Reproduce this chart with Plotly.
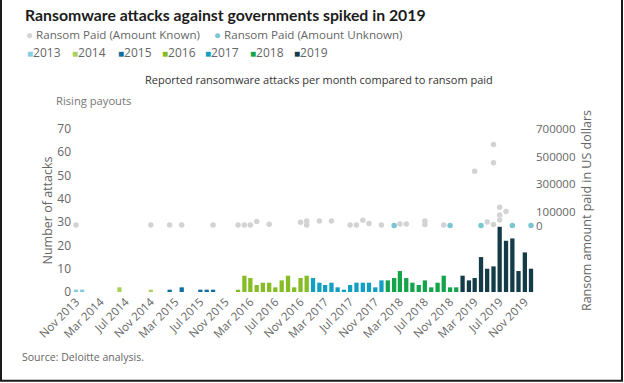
import plotly.graph_objects as go

# ---------------- data ----------------
# Reported ransomware attacks per month (bars), one list per year
months_2013 = ["2013-11-01", "2013-12-01"]
attacks_2013 = [1, 1]
months_2014 = ["2014-06-01", "2014-11-01"]
attacks_2014 = [2, 1]
months_2015 = ["2015-02-01", "2015-04-01", "2015-07-01", "2015-08-01", "2015-09-01"]
attacks_2015 = [1, 2, 1, 1, 1]
months_2016 = ["2016-01-01", "2016-02-01", "2016-03-01", "2016-04-01", "2016-05-01", "2016-06-01",
               "2016-07-01", "2016-08-01", "2016-09-01", "2016-10-01", "2016-11-01", "2016-12-01"]
attacks_2016 = [1, 7, 6, 3, 4, 4, 2, 5, 7, 2, 6, 7]
months_2017 = ["2017-01-01", "2017-02-01", "2017-03-01", "2017-04-01", "2017-05-01", "2017-06-01",
               "2017-07-01", "2017-08-01", "2017-09-01", "2017-10-01", "2017-11-01", "2017-12-01"]
attacks_2017 = [6, 4, 3, 4, 2, 1, 3, 4, 4, 4, 2, 5]
months_2018 = ["2018-01-01", "2018-02-01", "2018-03-01", "2018-04-01", "2018-05-01", "2018-06-01",
               "2018-07-01", "2018-08-01", "2018-09-01", "2018-10-01", "2018-11-01", "2018-12-01"]
attacks_2018 = [5, 6, 9, 6, 4, 3, 5, 2, 4, 7, 2, 2]
months_2019 = ["2019-01-01", "2019-02-01", "2019-03-01", "2019-04-01", "2019-05-01", "2019-06-01",
               "2019-07-01", "2019-08-01", "2019-09-01", "2019-10-01", "2019-11-01", "2019-12-01"]
attacks_2019 = [7, 5, 6, 15, 10, 11, 28, 22, 23, 9, 17, 10]

# Ransom paid (US dollars), amount known
known_months = ["2013-11-01", "2014-11-01", "2015-02-01", "2015-04-01", "2015-09-01",
                "2016-01-01", "2016-02-01", "2016-03-01", "2016-04-01", "2016-06-01",
                "2016-11-01", "2016-12-01", "2016-12-01", "2017-02-01", "2017-04-01",
                "2017-07-01", "2017-08-01", "2017-09-01", "2017-10-01", "2017-12-01",
                "2018-03-01", "2018-04-01", "2018-07-01", "2018-07-01", "2018-10-01",
                "2019-03-01", "2019-05-01", "2019-06-01", "2019-06-01", "2019-06-01",
                "2019-07-01", "2019-07-01", "2019-07-01", "2019-08-01"]
known_paid = [4000, 4000, 4000, 4000, 4000,
              4000, 4000, 4000, 29000, 9000,
              24000, 33000, 4000, 33000, 33000,
              4000, 4000, 38000, 14000, 4000,
              11000, 11000, 33000, 7000, 4000,
              394000, 26000, 587000, 455000, 7000,
              133000, 76000, 40000, 102000]

# Ransom paid, amount unknown (drawn on the zero line)
unknown_months = ["2018-02-01", "2018-11-01", "2019-04-01", "2019-09-01", "2019-12-01"]
unknown_paid = [0, 0, 0, 0, 0]

years = ["2013", "2014", "2015", "2016", "2017", "2018", "2019"]
year_colors = ["#86cfe0", "#a9d15c", "#0e6fa3", "#86bc25", "#139fc2", "#14a54a", "#133b48"]
known_color = "#d3d3d3"
unknown_color = "#79c6d0"

# ---------------- geometry ----------------
W_FIG, H_FIG = 624, 383
L, R, T, B = 72, 535, 128.5, 292
PW, PH = R - L, B - T


def xp(px):
    return (px - L) / PW


def yp(py):
    return (B - py) / PH


# ---------------- figure ----------------
fig = go.Figure()

bar_sets = [
    (months_2013, attacks_2013), (months_2014, attacks_2014), (months_2015, attacks_2015),
    (months_2016, attacks_2016), (months_2017, attacks_2017), (months_2018, attacks_2018),
    (months_2019, attacks_2019),
]
BAR_W = 20.9 * 86400000  # ms
for (mo, vals), yr, col in zip(bar_sets, years, year_colors):
    marker = dict(color=col, line=dict(width=0))
    if yr == "2013":
        marker["pattern"] = dict(shape=".", fgcolor="#4aaecb", size=3, solidity=0.35)
    fig.add_trace(go.Bar(x=mo, y=vals, name=yr, width=BAR_W, marker=marker))

fig.add_trace(go.Scatter(x=known_months, y=known_paid, mode="markers", yaxis="y2",
                         name="Ransom Paid (Amount Known)",
                         marker=dict(color=known_color, size=5.5)))
fig.add_trace(go.Scatter(x=unknown_months, y=unknown_paid, mode="markers", yaxis="y2",
                         name="Ransom Paid (Amount Unknown)",
                         marker=dict(color=unknown_color, size=5.5)))

FONT = "Open Sans, Noto Sans, sans-serif"
annotations = []


def ann(text, px, py, size, color, xanchor="left"):
    annotations.append(dict(text=text, x=xp(px), y=yp(py), xref="paper", yref="paper",
                            showarrow=False, xanchor=xanchor, yanchor="middle",
                            font=dict(size=size, color=color, family=FONT)))


# legend rows (drawn as text)
ann(f"<span style='color:{known_color}'>●</span> Ransom Paid (Amount Known)", 24, 34, 11.6, "#666")
ann(f"<span style='color:{unknown_color}'>●</span> Ransom Paid (Amount Unknown)", 212, 34, 11.6, "#666")
leg_x = [25, 70, 116, 160, 203, 248, 292]
for yr, col, px in zip(years, year_colors, leg_x):
    ann(f"<span style='color:{col};font-size:10px'>■</span>{yr}", px, 52, 12, "#666")

ann("Reported ransomware attacks per month compared to ransom paid", 319, 79, 11, "#333", "center")
ann("Rising payouts", 54, 100, 11.2, "#777")
ann("Source: Deloitte analysis.", 20, 357, 10.5, "#666")

shapes = [
    dict(type="line", xref="paper", yref="paper", x0=xp(1), x1=xp(1), y0=yp(-5), y1=yp(381),
         line=dict(color="#1a1a1a", width=2)),
    dict(type="line", xref="paper", yref="paper", x0=xp(622), x1=xp(622), y0=yp(-5), y1=yp(381),
         line=dict(color="#1a1a1a", width=2)),
    dict(type="line", xref="paper", yref="paper", x0=xp(0), x1=xp(623), y0=yp(381), y1=yp(381),
         line=dict(color="#1a1a1a", width=2)),
]

fig.update_layout(
    width=W_FIG, height=H_FIG, autosize=False,
    margin=dict(l=L, r=W_FIG - R, t=T, b=H_FIG - B, pad=0),
    paper_bgcolor="white", plot_bgcolor="white",
    font=dict(family=FONT, color="#666"),
    barmode="overlay", showlegend=False,
    title=dict(text="<b>Ransomware attacks against governments spiked in 2019</b>",
               x=25 / W_FIG, xanchor="left", xref="container",
               y=1 - 15 / H_FIG, yanchor="middle", yref="container",
               font=dict(family="Lato, Roboto, Open Sans", size=15.8, color="#1c1c1c")),
    xaxis=dict(type="date", range=["2013-10-12 12:00", "2019-12-20 12:00"],
               tick0="2013-11-01", dtick="M4", tickformat="%b %Y", tickangle=-45,
               tickfont=dict(size=11.5, color="#666"), showgrid=False, zeroline=False,
               showline=False, ticks=""),
    yaxis=dict(range=[0, 70], dtick=10, showgrid=False, zeroline=False, showline=False,
               tickfont=dict(size=12, color="#666"), ticks="",
               title=dict(text="Number of attacks", standoff=1,
                          font=dict(size=12.5, color="#666"))),
    yaxis2=dict(overlaying="y", side="right", range=[-482000, 700000],
                tickvals=[0, 100000, 300000, 500000, 700000], tickformat="d",
                showgrid=False, zeroline=False, showline=False, ticks="",
                tickfont=dict(size=11.5, color="#666"),
                title=dict(text="Ransom amount paid in US dollars", standoff=7,
                           font=dict(size=12.5, color="#666"))),
    annotations=annotations, shapes=shapes,
)

fig.write_html("out.html", config={"displayModeBar": False},
               post_script="document.body.style.margin='0px';")
